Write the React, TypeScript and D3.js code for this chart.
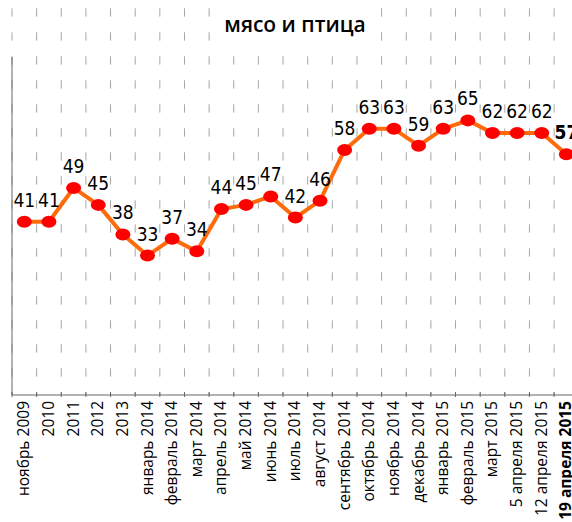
import React from "react";
import * as d3 from "d3";

const categories = [
  "ноябрь 2009", "2010", "2011", "2012", "2013",
  "январь 2014", "февраль 2014", "март 2014", "апрель 2014", "май 2014",
  "июнь 2014", "июль 2014", "август 2014", "сентябрь 2014", "октябрь 2014",
  "ноябрь 2014", "декабрь 2014", "январь 2015", "февраль 2015", "март 2015",
  "5 апреля 2015", "12 апреля 2015", "19 апреля 2015",
];
const values = [41, 41, 49, 45, 38, 33, 37, 34, 44, 45, 47, 42, 46, 58, 63, 63, 59, 63, 65, 62, 62, 62, 57];
const title = "мясо и птица";

const W = 572;
const H = 522;
const margin = { top: 57, left: 12, bottom: 127 };
const bandW = 24.64;

export default function App() {
  const x = d3.scaleBand<string>()
    .domain(categories)
    .range([margin.left, margin.left + bandW * categories.length]);
  const y = d3.scaleLinear().domain([0, 80]).range([H - margin.bottom, margin.top]);
  const line = d3.line<number>()
    .x((_, i) => x(categories[i])! + x.bandwidth() / 2)
    .y(d => y(d));

  const baseY = y(0);
  const bounds = categories.map(c => x(c)!).concat([x.range()[1]]);
  const labelFont = "'Liberation Sans Narrow', 'DejaVu Sans Condensed', sans-serif";

  return (
    <svg width={W} height={H} style={{ position: "absolute", left: 0, top: 0, background: "#fff" }}>
      {/* dashed vertical grid */}
      {bounds.map((bx, i) => (
        <line key={"g" + i} x1={bx} x2={bx} y1={8.3} y2={baseY}
          stroke="#a6a6a6" strokeWidth={1} strokeDasharray="8.3,15.7" />
      ))}
      {/* title */}
      <rect x={214} y={0} width={160} height={50} fill="#fff" />
      <text x={295} y={32} textAnchor="middle" fontFamily="'Open Sans', sans-serif"
        fontWeight={600} fontSize={21} fill="#000">{title}</text>
      {/* axes */}
      <line x1={margin.left} x2={margin.left} y1={margin.top} y2={baseY} stroke="#666" strokeWidth={1} />
      <line x1={margin.left} x2={W} y1={baseY} y2={baseY} stroke="#666" strokeWidth={1} />
      {bounds.map((bx, i) => (
        <line key={"t" + i} x1={bx} x2={bx} y1={baseY - 3} y2={baseY + 2} stroke="#666" strokeWidth={1} />
      ))}
      {categories.map((c, i) => (
        <text key={"xl" + i}
          transform={`translate(${x(c)! + x.bandwidth() / 2 + 5},${baseY + 6}) rotate(-90)`}
          textAnchor="end" fontFamily="'Open Sans', sans-serif" fontSize={15.5}
          fontWeight={i === categories.length - 1 ? 700 : 400} fill="#000">{c}</text>
      ))}
      {/* series */}
      <path d={line(values)!} fill="none" stroke="#ff6a0a" strokeWidth={4} strokeLinejoin="round" />
      {values.map((v, i) => (
        <ellipse key={"p" + i} cx={x(categories[i])! + x.bandwidth() / 2} cy={y(v)} rx={7.5} ry={6} fill="#ff0000" />
      ))}
      {values.map((v, i) => (
        <text key={"l" + i} x={x(categories[i])! + x.bandwidth() / 2} y={y(v) - 15}
          textAnchor="middle" fontFamily={labelFont} fontSize={19}
          fontWeight={i === values.length - 1 ? 700 : 400} fill="#000">{v}</text>
      ))}
    </svg>
  );
}
